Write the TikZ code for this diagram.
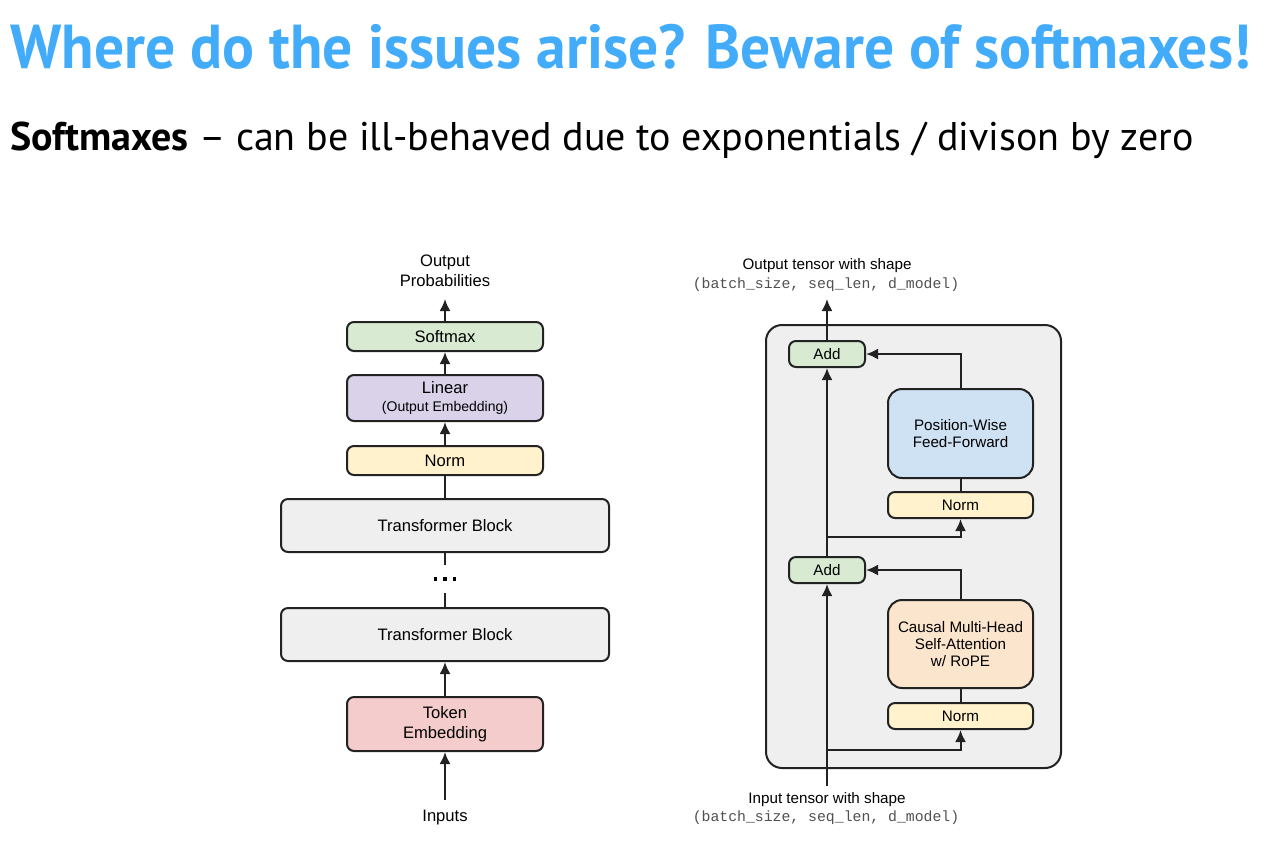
\documentclass[tikz,border=0pt]{standalone}
\usepackage{fontspec}
\setmainfont{Liberation Sans}
\setmonofont{Liberation Mono}
\newfontfamily\headfont[FakeStretch=0.96]{PT Sans}
\newfontfamily\subfont{PT Sans}
\usetikzlibrary{arrows.meta}

\definecolor{headblue}{RGB}{66,172,250}
\definecolor{blockgray}{RGB}{239,239,239}
\definecolor{softgreen}{RGB}{217,234,211}
\definecolor{linpurple}{RGB}{217,210,233}
\definecolor{normyellow}{RGB}{255,242,204}
\definecolor{tokred}{RGB}{244,204,204}
\definecolor{ffblue}{RGB}{207,226,243}
\definecolor{attnorange}{RGB}{252,229,205}
\definecolor{edgegray}{RGB}{34,34,34}
\definecolor{shapegray}{RGB}{80,80,80}

\tikzset{
  box/.style={draw=edgegray, line width=1pt, rounded corners=3.5pt, align=center, inner sep=0pt},
  lbox/.style={box, font=\fontsize{8.3}{10}\selectfont},
  rbox/.style={box, font=\fontsize{7.6}{8.7}\selectfont},
  arr/.style={-{Latex[length=6pt,width=5.5pt]}, line width=1pt, draw=edgegray},
  wire/.style={line width=1pt, draw=edgegray},
  lbl/.style={align=center, inner sep=0pt, font=\fontsize{8.3}{10}\selectfont},
  rlbl/.style={align=center, inner sep=0pt, font=\fontsize{7.6}{9}\selectfont},
  shapelbl/.style={inner sep=0pt, text=shapegray, font=\ttfamily\fontsize{7.4}{9}\selectfont}
}

\begin{document}
\begin{tikzpicture}[x=0.5pt, y=-0.5pt]
  \useasboundingbox[fill=white] (0,0) rectangle (1272,842);

  % heading
  \node[anchor=base west, inner sep=0pt, text=headblue, font=\headfont\bfseries\fontsize{31}{34}\selectfont] (title) at (10,68) {Where do the issues arise? Beware of softmaxes!};
  \node[anchor=base west, inner sep=0pt, font=\subfont\fontsize{20}{24}\selectfont] (sub) at (10,150) {\textbf{Softmaxes} – can be ill-behaved due to exponentials / divison by zero};

  % left: whole model
  \node[lbl] (oprob) at (445,271) {Output\\Probabilities};
  \node[lbox, fill=softgreen, minimum width=98pt, minimum height=14.5pt] (soft) at (445,336.5) {Softmax};
  \node[lbox, fill=linpurple, minimum width=98pt, minimum height=23pt] (lin) at (445,398) {Linear\\[-1pt]{\fontsize{7}{8}\selectfont(Output Embedding)}};
  \node[lbox, fill=normyellow, minimum width=98pt, minimum height=14.5pt] (lnorm) at (445,460.5) {Norm};
  \node[lbox, fill=blockgray, minimum width=164pt, minimum height=26.5pt] (tb1) at (445,525.5) {Transformer Block};
  \node[minimum height=14pt, inner sep=0pt] (dots) at (445,579) {\rule{1.6pt}{1.6pt}\hspace{3pt}\rule{1.6pt}{1.6pt}\hspace{3pt}\rule{1.6pt}{1.6pt}};
  \node[lbox, fill=blockgray, minimum width=164pt, minimum height=26.5pt] (tb2) at (445,634.5) {Transformer Block};
  \node[lbox, fill=tokred, minimum width=98pt, minimum height=27pt] (tok) at (445,724) {Token\\Embedding};
  \node[lbl] (inp) at (445,817) {Inputs};
  \coordinate (inL) at (445,800);
  \coordinate (outL) at (445,299);

  \draw[arr] (inL) -- (tok);
  \draw[arr] (tok) -- (tb2);
  \draw[wire] (tb2) -- (dots);
  \draw[wire] (dots) -- (tb1);
  \draw[wire] (tb1) -- (lnorm);
  \draw[arr] (lnorm) -- (lin);
  \draw[arr] (lin) -- (soft);
  \draw[arr] (soft) -- (outL);

  % right: one block
  \node[rlbl] (otxt) at (827,266) {Output tensor with shape};
  \node[shapelbl] (oshape) at (826,285) {(batch\_size, seq\_len, d\_model)};
  \node[draw=edgegray, line width=1pt, fill=blockgray, rounded corners=8pt, minimum width=147.5pt, minimum height=221.5pt] (frame) at (913.5,546.5) {};
  \node[rbox, fill=softgreen, minimum width=38pt, minimum height=13pt] (addT) at (827,354) {Add};
  \node[rbox, fill=ffblue, rounded corners=7pt, minimum width=72.5pt, minimum height=44.5pt] (ff) at (960.5,433.5) {Position-Wise\\Feed-Forward};
  \node[rbox, fill=normyellow, minimum width=72.5pt, minimum height=13pt] (normT) at (960.5,505) {Norm};
  \node[rbox, fill=softgreen, minimum width=38pt, minimum height=13pt] (addB) at (827,570) {Add};
  \node[rbox, fill=attnorange, rounded corners=7pt, minimum width=72.5pt, minimum height=44pt] (attn) at (960.5,644) {Causal Multi-Head\\Self-Attention\\w/ RoPE};
  \node[rbox, fill=normyellow, minimum width=72.5pt, minimum height=13pt] (normB) at (960.5,716) {Norm};
  \node[rlbl] (itxt) at (827,800) {Input tensor with shape};
  \node[shapelbl] (ishape) at (826,818) {(batch\_size, seq\_len, d\_model)};
  \coordinate (inR) at (827,786);
  \coordinate (splitB) at (827,750);
  \coordinate (splitT) at (827,537);
  \coordinate (outR) at (827,299);

  \draw[arr] (inR) -- (addB);
  \draw[arr] (splitB) -| (normB);
  \draw[wire] (normB) -- (attn);
  \draw[arr] (attn.north) |- (addB.east);
  \draw[arr] (addB) -- (addT);
  \draw[arr] (splitT) -| (normT);
  \draw[wire] (normT) -- (ff);
  \draw[arr] (ff.north) |- (addT.east);
  \draw[arr] (addT) -- (outR);
\end{tikzpicture}
\end{document}
